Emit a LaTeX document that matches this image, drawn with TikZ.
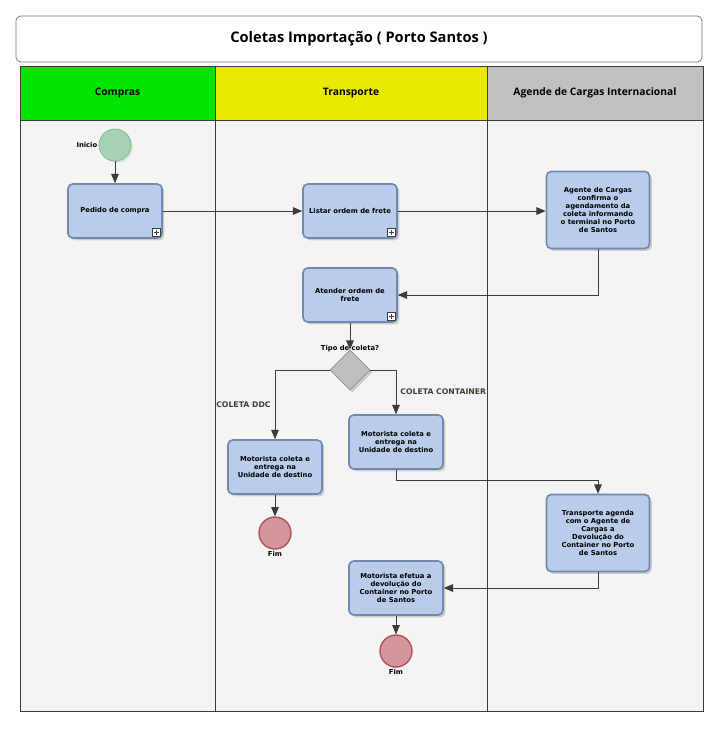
\documentclass[tikz,border=0pt]{standalone}
\usepackage{fontspec}
\setmainfont{DejaVu Sans}
\newfontfamily\headfont{Open Sans}
\usetikzlibrary{arrows,shapes.geometric,shadows}

\definecolor{taskfill}{RGB}{185,205,235}
\definecolor{taskline}{RGB}{115,135,175}
\definecolor{lanebg}{RGB}{244,244,244}
\definecolor{laneline}{RGB}{60,60,60}
\definecolor{hdgreen}{RGB}{0,228,0}
\definecolor{hdyellow}{RGB}{234,234,0}
\definecolor{hdgray}{RGB}{192,192,192}
\definecolor{startfill}{RGB}{168,208,178}
\definecolor{startline}{RGB}{120,190,135}
\definecolor{endfill}{RGB}{212,150,155}
\definecolor{endline}{RGB}{180,80,90}
\definecolor{gatefill}{RGB}{190,190,190}
\definecolor{flowtext}{RGB}{70,60,50}
\newcommand{\boxfont}{\bfseries\fontsize{5.8}{6.8}\selectfont}

\begin{document}
\begin{tikzpicture}[x=0.03cm,y=-0.03cm,
  task/.style={draw=taskline, fill=taskfill, line width=1.4pt, rounded corners=4pt,
    minimum width=2.82cm, minimum height=1.62cm, align=center, font=\boxfont,
    drop shadow={shadow xshift=2pt,shadow yshift=-2pt,fill=black!35}},
  bigtask/.style={task, minimum width=3.09cm, minimum height=2.31cm},
  plusbox/.style={draw=black!75, fill=white, line width=0.5pt, inner sep=0pt, minimum size=0.25cm,
    path picture={
      \draw[line width=0.9pt] ([xshift=-2pt]path picture bounding box.center) -- ([xshift=2pt]path picture bounding box.center);
      \draw[line width=0.9pt] ([yshift=-2pt]path picture bounding box.center) -- ([yshift=2pt]path picture bounding box.center);}},
  startev/.style={circle, draw=startline, fill=startfill, line width=0.6pt, minimum size=0.96cm, inner sep=0pt,
    drop shadow={shadow xshift=1.5pt,shadow yshift=-1.5pt,fill=black!20}},
  endev/.style={circle, draw=endline, fill=endfill, line width=1.2pt, minimum size=0.96cm, inner sep=0pt},
  gate/.style={diamond, aspect=1, draw=black!45, fill=gatefill, line width=0.6pt, minimum size=1.2cm, inner sep=0pt,
    drop shadow={shadow xshift=2pt,shadow yshift=-2pt,fill=black!35}},
  evlabel/.style={font=\boxfont, inner sep=1pt},
  flow/.style={draw=laneline, line width=0.8pt, -triangle 45},
  flowlabel/.style={font=\bfseries\fontsize{6.6}{7.5}\selectfont, text=flowtext},
  header/.style={draw=laneline, line width=0.8pt, minimum height=1.62cm, font=\headfont\bfseries\fontsize{8.8}{10}\selectfont}]

\useasboundingbox[fill=white] (0,0) rectangle (725,729);

% title
\node[draw=black!55, line width=0.6pt, rounded corners=4pt, minimum width=20.58cm, minimum height=1.38cm,
  font=\headfont\bfseries\fontsize{12.5}{14}\selectfont] (title) at (359,39) {Coletas Importação ( Porto Santos )};

% lanes
\draw[laneline, line width=0.8pt, fill=lanebg] (20,120) rectangle (215,711);
\draw[laneline, line width=0.8pt, fill=lanebg] (215,120) rectangle (487,711);
\draw[laneline, line width=0.8pt, fill=lanebg] (487,120) rectangle (703,711);
\node[header, fill=hdgreen, minimum width=5.85cm] (compras) at (117.5,93) {Compras};
\node[header, fill=hdyellow, minimum width=8.16cm] (transporte) at (351,93) {Transporte};
\node[header, fill=hdgray, minimum width=6.48cm] (agentes) at (595,93) {Agende de Cargas Internacional};

% nodes
\node[startev, label={[evlabel]left:Inicio}] (inicio) at (115,145) {};
\node[task] (pedido) at (115,211) {Pedido de compra};
\node[task] (listar) at (350,211) {Listar ordem de frete};
\node[bigtask] (agente) at (598,210) {Agente de Cargas\\confirma o\\agendamento da\\coleta informando\\o terminal no Porto\\de Santos};
\node[task] (atender) at (350,295) {Atender ordem de\\frete};
\node[gate, label={[evlabel, yshift=-3pt]above:Tipo de coleta?}] (tipo) at (350,370) {};
\node[task] (motddc) at (275,467) {Motorista coleta e\\entrega na\\Unidade de destino};
\node[task] (motcont) at (396,442) {Motorista coleta e\\entrega na\\Unidade de destino};
\node[endev, label={[evlabel]below:Fim}] (fimddc) at (275,533) {};
\node[bigtask] (agenda) at (598,533) {Transporte agenda\\com o Agente de\\Cargas a\\Devolução do\\Container no Porto\\de Santos};
\node[task] (efetua) at (396,588) {Motorista efetua a\\devolução do\\Container no Porto\\de Santos};
\node[endev, label={[evlabel]below:Fim}] (fimcont) at (396,651) {};

% subprocess markers
\node[plusbox, anchor=south east] (pedidoplus) at ([xshift=-1.5pt,yshift=1.5pt]pedido.south east) {};
\node[plusbox, anchor=south east] (listarplus) at ([xshift=-1.5pt,yshift=1.5pt]listar.south east) {};
\node[plusbox, anchor=south east] (atenderplus) at ([xshift=-1.5pt,yshift=1.5pt]atender.south east) {};

% flows
\draw[flow] (inicio) -- (pedido);
\draw[flow] (pedido) -- (listar);
\draw[flow] (listar.east) -- (listar.east -| agente.west);
\draw[flow] (agente.south) |- (atender.east);
\draw[flow] (atender) -- (tipo);
\draw[flow] (tipo.west) -| node[flowlabel, pos=0.75, left] {COLETA DDC} (motddc.north);
\draw[flow] (tipo.east) -| node[flowlabel, pos=0.75, right] {COLETA CONTAINER} (motcont.north);
\draw[flow] (motcont.south) -- ++(0,11) -| (agenda.north);
\draw[flow] (motddc) -- (fimddc);
\draw[flow] (agenda.south) |- (efetua.east);
\draw[flow] (efetua) -- (fimcont);

\end{tikzpicture}
\end{document}
